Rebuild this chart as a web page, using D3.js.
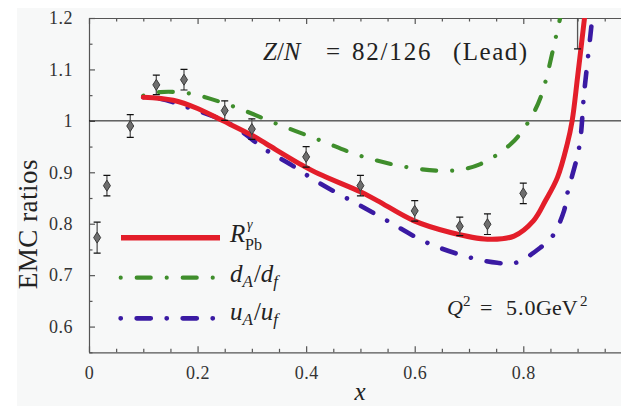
<!DOCTYPE html>
<html>
<head>
<meta charset="utf-8">
<script src="https://cdn.jsdelivr.net/npm/d3@7"></script>
<style>
  body { margin: 0; background: #fff; }
  svg text { font-family: "Liberation Serif", "DejaVu Serif", serif; fill: #222; }
  .axis path, .axis line { stroke: #555; stroke-width: 1.2; }
  .axis text { font-size: 18px; fill: #333; letter-spacing: 0.5px; }
</style>
</head>
<body>
<div id="chart"></div>
<script>
// data points (EMC ratio, lead)
var dataX   = [0.015, 0.033, 0.076, 0.124, 0.175, 0.25, 0.30, 0.40, 0.50, 0.60, 0.683, 0.734, 0.80, 0.90];
var dataY   = [0.773, 0.874, 0.990, 1.070, 1.080, 1.020, 0.984, 0.930, 0.874, 0.825, 0.795, 0.799, 0.859, 1.21];
var dataErr = [0.030, 0.020, 0.022, 0.019, 0.020, 0.019, 0.020, 0.020, 0.020, 0.020, 0.018, 0.020, 0.020, 0.07];

// R^gamma_Pb curve
var redX = [0.10, 0.155, 0.20, 0.247, 0.30, 0.327, 0.389, 0.423, 0.50, 0.531, 0.598, 0.666, 0.734, 0.783, 0.819, 0.841, 0.863, 0.881, 0.89, 0.90, 0.915];
var redY = [1.046, 1.040, 1.024, 1.000, 0.972, 0.955, 0.916, 0.897, 0.862, 0.845, 0.806, 0.783, 0.770, 0.776, 0.806, 0.845, 0.890, 0.955, 1.000, 1.085, 1.22];

// d_A/d_f curve
var greenX = [0.10, 0.131, 0.186, 0.266, 0.344, 0.426, 0.50, 0.586, 0.666, 0.721, 0.777, 0.807, 0.832, 0.86, 0.872];
var greenY = [1.049, 1.056, 1.053, 1.028, 0.995, 0.962, 0.932, 0.910, 0.903, 0.916, 0.955, 0.994, 1.046, 1.163, 1.22];

// u_A/u_f curve
var blueX = [0.10, 0.131, 0.18, 0.26, 0.328, 0.37, 0.423, 0.50, 0.549, 0.623, 0.703, 0.752, 0.786, 0.832, 0.854, 0.875, 0.881, 0.903, 0.912, 0.924, 0.929];
var blueY = [1.046, 1.043, 1.027, 0.994, 0.942, 0.916, 0.880, 0.835, 0.806, 0.763, 0.734, 0.724, 0.724, 0.754, 0.776, 0.825, 0.858, 0.949, 1.053, 1.17, 1.22];

var xMajor = [0, 0.2, 0.4, 0.6, 0.8];
var yMajor = [0.6, 0.7, 0.8, 0.9, 1, 1.1, 1.2];
var yLabels = ["0.6", "0.7", "0.8", "0.9", "1", "1.1", "1.2"];

var width = 621, height = 406;
var plot = { left: 89, right: 621, top: 18, bottom: 352.3 };

var svg = d3.select("#chart").append("svg")
    .attr("width", width)
    .attr("height", height);

svg.append("rect")
    .attr("x", 17).attr("y", 8)
    .attr("width", width - 17).attr("height", height - 8)
    .attr("fill", "#f7f8f8");

var x = d3.scaleLinear().domain([0, 0.98]).range([plot.left, plot.right]);
var y = d3.scaleLinear().domain([0.55, 1.2]).range([plot.bottom, plot.top]);

svg.append("clipPath").attr("id", "clip")
  .append("rect")
    .attr("x", plot.left).attr("y", plot.top)
    .attr("width", plot.right - plot.left).attr("height", plot.bottom - plot.top);

// minor ticks
var xMinor = d3.range(0, 0.98, 0.05).filter(function(d) { return Math.abs(d * 5 - Math.round(d * 5)) > 1e-6; });
var yMinor = d3.range(0.55, 1.2, 0.05).filter(function(d) { return Math.abs(d * 10 - Math.round(d * 10)) > 1e-6; });

svg.append("g").attr("class", "axis")
    .attr("transform", "translate(0," + plot.bottom + ")")
    .call(d3.axisBottom(x).tickValues(xMinor).tickSize(-3.5).tickFormat(""))
    .call(function(g) { g.select(".domain").remove(); });
svg.append("g").attr("class", "axis")
    .attr("transform", "translate(0," + plot.top + ")")
    .call(d3.axisTop(x).tickValues(xMinor).tickSize(-3.5).tickFormat(""))
    .call(function(g) { g.select(".domain").remove(); });
svg.append("g").attr("class", "axis")
    .attr("transform", "translate(" + plot.left + ",0)")
    .call(d3.axisLeft(y).tickValues(yMinor).tickSize(-3.5).tickFormat(""))
    .call(function(g) { g.select(".domain").remove(); });

// major axes
svg.append("g").attr("class", "axis")
    .attr("transform", "translate(0," + plot.bottom + ")")
    .call(d3.axisBottom(x).tickValues(xMajor).tickSize(-6).tickSizeOuter(0).tickPadding(14)
        .tickFormat(function(d) { return d === 0 ? "0" : d3.format(".1f")(d); }));
svg.append("g").attr("class", "axis")
    .attr("transform", "translate(0," + plot.top + ")")
    .call(d3.axisTop(x).tickValues(xMajor).tickSize(-6).tickSizeOuter(0).tickFormat(""));
svg.append("g").attr("class", "axis")
    .attr("transform", "translate(" + plot.left + ",0)")
    .call(d3.axisLeft(y).tickValues(yMajor).tickSize(-6).tickSizeOuter(0).tickPadding(16)
        .tickFormat(function(d, i) { return yLabels[i]; }));

// reference line at 1
svg.append("line")
    .attr("x1", plot.left).attr("x2", plot.right)
    .attr("y1", y(1)).attr("y2", y(1))
    .attr("stroke", "#111").attr("stroke-width", 1);

var plotArea = svg.append("g").attr("clip-path", "url(#clip)");

var line = d3.line()
    .x(function(d) { return x(d[0]); })
    .y(function(d) { return y(d[1]); })
    .curve(d3.curveCatmullRom.alpha(0.5));

var dashPat = "0.01,16,14,16";

var series = [
    { xs: greenX, ys: greenY, color: "#3f8e2c", w: 4.2, dash: dashPat },
    { xs: blueX, ys: blueY, color: "#3a1aa3", w: 4.6, dash: dashPat },
    { xs: redX, ys: redY, color: "#e31e2a", w: 5, dash: null }
];

series.forEach(function(s) {
    plotArea.append("path")
        .datum(d3.zip(s.xs, s.ys))
        .attr("d", line)
        .attr("fill", "none")
        .attr("stroke", s.color)
        .attr("stroke-width", s.w)
        .attr("stroke-linecap", "round")
        .attr("stroke-dasharray", s.dash);
});

// data points with error bars
var pts = d3.range(dataX.length).map(function(i) {
    return { x: dataX[i], y: dataY[i], e: dataErr[i] };
});
var pg = plotArea.selectAll(".pt").data(pts).enter().append("g").attr("class", "pt");
pg.append("line")
    .attr("x1", function(d) { return x(d.x); }).attr("x2", function(d) { return x(d.x); })
    .attr("y1", function(d) { return y(d.y - d.e); }).attr("y2", function(d) { return y(d.y + d.e); })
    .attr("stroke", "#555").attr("stroke-width", 1.3);
pg.selectAll(".cap")
    .data(function(d) { return [{ x: d.x, v: d.y - d.e }, { x: d.x, v: d.y + d.e }]; })
    .enter().append("line")
    .attr("x1", function(d) { return x(d.x) - 3.5; }).attr("x2", function(d) { return x(d.x) + 3.5; })
    .attr("y1", function(d) { return y(d.v); }).attr("y2", function(d) { return y(d.v); })
    .attr("stroke", "#111").attr("stroke-width", 1.2);
pg.append("path")
    .attr("d", function(d) {
        var cx = x(d.x), cy = y(d.y);
        return "M" + cx + "," + (cy - 5.5) + "L" + (cx + 3.5) + "," + cy + "L" + cx + "," + (cy + 5.5) + "L" + (cx - 3.5) + "," + cy + "Z";
    })
    .attr("fill", "#6e6e6e").attr("stroke", "#3a3a3a").attr("stroke-width", 1);

// legend
var legend = svg.append("g");
var legItems = [
    { color: "#e31e2a", w: 5.5, dash: null, y: 237.7, x1: 121, x2: 220 },
    { color: "#3f8e2c", w: 4.2, dash: dashPat, y: 277.7, x1: 120.7, x2: 214 },
    { color: "#3a1aa3", w: 4.8, dash: dashPat, y: 318.3, x1: 120.7, x2: 214 }
];
legItems.forEach(function(l) {
    legend.append("line")
        .attr("x1", l.x1).attr("x2", l.x2).attr("y1", l.y).attr("y2", l.y)
        .attr("stroke", l.color).attr("stroke-width", l.w)
        .attr("stroke-linecap", l.dash ? "round" : "butt")
        .attr("stroke-dasharray", l.dash);
});

var t1 = legend.append("text").attr("x", 230).attr("y", 242).style("font-size", "25px").style("font-style", "italic");
t1.append("tspan").text("R");
t1.append("tspan").attr("x", 247).attr("y", 229).style("font-size", "14px").text("γ");
t1.append("tspan").attr("x", 245).attr("y", 250).style("font-size", "16px").style("font-style", "normal").text("Pb");

var t2 = legend.append("text").attr("x", 230).attr("y", 281.5).style("font-size", "25px").style("font-style", "italic");
t2.append("tspan").text("d");
t2.append("tspan").attr("dy", 5).style("font-size", "17px").text("A");
t2.append("tspan").attr("dy", -5).attr("dx", 1).style("font-style", "normal").text("/");
t2.append("tspan").text("d");
t2.append("tspan").attr("dy", 5).style("font-size", "17px").text("f");

var t3 = legend.append("text").attr("x", 230).attr("y", 320).style("font-size", "25px").style("font-style", "italic");
t3.append("tspan").text("u");
t3.append("tspan").attr("dy", 5).style("font-size", "17px").text("A");
t3.append("tspan").attr("dy", -5).attr("dx", 1).style("font-style", "normal").text("/");
t3.append("tspan").text("u");
t3.append("tspan").attr("dy", 5).style("font-size", "17px").text("f");

// annotations
var zn = svg.append("text").attr("y", 60).style("font-size", "25px");
zn.append("tspan").attr("x", 263).style("font-style", "italic").text("Z");
zn.append("tspan").text("/");
zn.append("tspan").style("font-style", "italic").text("N");
zn.append("tspan").attr("x", 326).text("=");
zn.append("tspan").attr("x", 352).style("letter-spacing", "1.8px").text("82/126");
zn.append("tspan").attr("x", 453).style("letter-spacing", "1.5px").text("(Lead)");

var q = svg.append("text").attr("y", 315).style("font-size", "22px");
q.append("tspan").attr("x", 447).style("font-style", "italic").text("Q");
q.append("tspan").attr("x", 463).attr("y", 306).style("font-size", "15px").text("2");
q.append("tspan").attr("x", 480).attr("y", 315).text("=");
q.append("tspan").attr("x", 506).style("letter-spacing", "1px").text("5.0");
q.append("tspan").attr("x", 536).text("GeV");
q.append("tspan").attr("x", 580).attr("y", 306).style("font-size", "15px").text("2");

// axis titles
svg.append("text")
    .attr("transform", "translate(37,224) rotate(-90)")
    .attr("text-anchor", "middle")
    .style("font-size", "27px")
    .style("letter-spacing", "0.5px")
    .text("EMC ratios");

svg.append("text")
    .attr("x", 360).attr("y", 400)
    .attr("text-anchor", "middle")
    .style("font-size", "25px").style("font-style", "italic")
    .text("x");
</script>
</body>
</html>
